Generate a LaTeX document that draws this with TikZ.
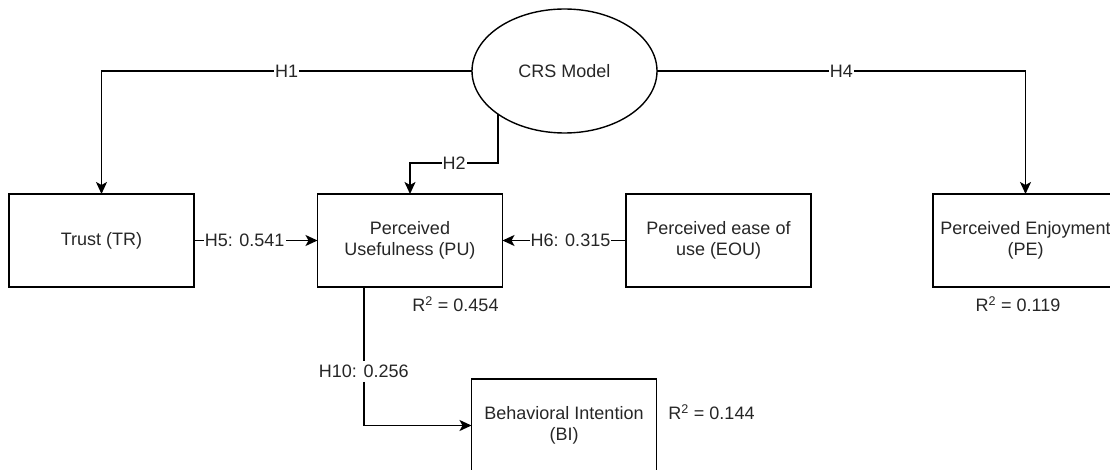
\documentclass[tikz,border=0pt]{standalone}
\usepackage{fontspec}
\setmainfont{Liberation Sans}
\usetikzlibrary{arrows.meta,calc,shapes.geometric}
\begin{document}
\begin{tikzpicture}[x=1pt,y=-1pt,
  every node/.style={font=\fontsize{18}{21.6}\selectfont, text=black!85},
  box/.style={draw, line width=1.6pt, minimum width=185pt, minimum height=93pt,
    inner sep=0pt, outer sep=0pt, align=center},
  model/.style={draw, ellipse, line width=1.4pt, minimum width=185pt,
    minimum height=124pt, inner sep=0pt, outer sep=0pt},
  link/.style={line width=1.6pt, -{Stealth[length=12pt,width=11pt,inset=3pt]}},
  plain/.style={line width=1.6pt},
  lab/.style={fill=white, inner sep=1pt},
  vlab/.style={fill=white, inner xsep=1pt, inner ysep=4pt, outer sep=0pt},
  rsq/.style={inner sep=0pt, anchor=base}]
\useasboundingbox (0,0) rectangle (1110,470);
\clip (0,0) rectangle (1110,470);

% constructs
\node[model] (crs) at (564.5,71) {CRS Model};
\node[box] (tr)  at (101.5,240.5) {Trust (TR)};
\node[box] (pu)  at (410,240.5)   {Perceived\\Usefulness (PU)};
\node[box] (eou) at (718.5,240.5) {Perceived ease of\\use (EOU)};
\node[box] (pe)  at (1025.5,240.5) {Perceived Enjoyment\\(PE)};
\node[box] (bi)  at (564,425.5)   {Behavioral Intention\\(BI)};

% explained variance
\node[rsq] (rpu) at (455.5,311.5) {R\textsuperscript{2} = 0.454};
\node[rsq] (rpe) at (1018,311.5)  {R\textsuperscript{2} = 0.119};
\node[rsq] (rbi) at (711.5,419.5) {R\textsuperscript{2} = 0.144};

% hypothesised paths
\draw[link] (crs.west) -| node[pos=0.25, lab] {H1} (tr.north);
\draw[link] (crs.east) -| node[pos=0.25, lab] {H4} (pe.north);
\draw[link] (crs.213.8) |- node[pos=0.75, lab] {H2} ($(pu.north)+(0,-31)$) -- (pu.north);
\draw[link] (tr.east) -- node[pos=0.41, lab] {H5: 0.541} (pu.west);
\draw[link] (eou.west) -- node[pos=0.45, lab] {H6: 0.315} (pu.east);

% H10 runs down from PU, through its label, then across to BI
\coordinate (h10start) at ($(pu.south west)!0.25!(pu.south east)$);
\coordinate (h10bend) at (h10start |- bi.west);
\node[vlab] (h10lab) at ($(h10start)!0.61!(h10bend)$) {H10: 0.256};
\draw[plain] (h10start) -- (h10lab.north -| h10start);
\draw[link] (h10lab.south -| h10start) -- (h10bend) -- (bi.west);
\end{tikzpicture}
\end{document}
